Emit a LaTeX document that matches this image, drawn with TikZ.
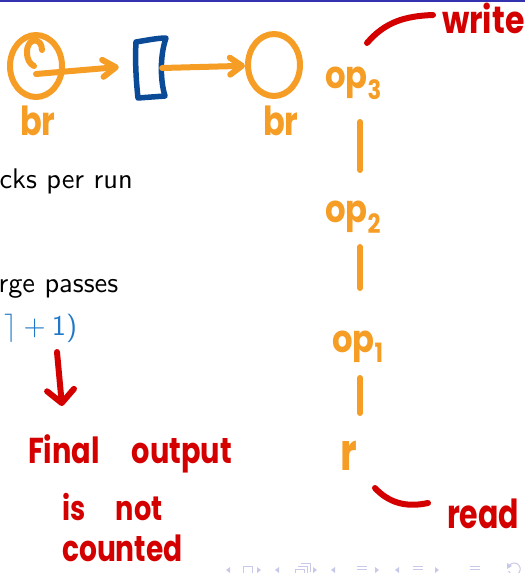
\documentclass[tikz,border=0pt]{standalone}
\usepackage{fontspec}
\usetikzlibrary{arrows.meta,shapes.geometric}
\newfontfamily\handfont{Poppins}

\definecolor{penorange}{RGB}{245,157,36}
\definecolor{penblue}{RGB}{10,74,150}
\definecolor{penred}{RGB}{212,0,0}
\definecolor{mathblue}{RGB}{31,120,200}
\definecolor{barblue}{RGB}{51,51,178}
\definecolor{navgrey}{RGB}{200,200,232}

\tikzset{
  ostroke/.style={draw=penorange, line width=6pt, line cap=round, line join=round},
  bstroke/.style={draw=penblue, line width=5.5pt, line cap=round, line join=round},
  rstroke/.style={draw=penred, line width=6pt, line cap=round, line join=round},
  ink/.style={inner sep=0pt, anchor=base west, font=\handfont\bfseries},
  body/.style={inner sep=0pt, anchor=base west, font=\sffamily, scale=2.84},
  ring/.style={ellipse, ostroke, minimum width=52pt, minimum height=62pt, inner sep=0pt},
  barb/.style={-{Straight Barb[length=#1, width=17pt, line cap=round, line join=round]}},
  navtri/.style={fill=navgrey, draw=none},
}

\begin{document}
\begin{tikzpicture}[x=1pt, y=-1pt]
\useasboundingbox (0,0) rectangle (525,573);
\clip (0,0) rectangle (525,573);

% rule under the frame title
\fill[barblue] (0,0) rectangle (525,1.6);

% slide body text
\node[body] (l1) at (-1,188) {cks per run};
\node[body] (l2) at (-2,292) {rge passes};
\node[body, text=mathblue] (l3) at (4,335) {$\rceil \mathbin{\textsf{+}} \textsf{1)}$};

% input run -> buffer -> output run
\node[ring] (lc) at (36,66) {};
\draw[ostroke] (42,50) .. controls (42,37) and (27,37) .. (27,52)
               .. controls (27,60) and (30,64) .. (34,66);
\node[minimum width=30pt, minimum height=58pt, inner sep=0pt] (blk) at (151,68) {};
\draw[bstroke] (136,42) .. controls (148,40) and (158,38) .. (166,38)
               .. controls (160,55) and (160,80) .. (165,96)
               -- (138,98) .. controls (136,80) and (135,60) .. cycle;
\node[ring] (rc) at (274,65) {};
\draw[ostroke, barb=13pt] ([yshift=-8pt]lc.center) -- ([xshift=-17pt,yshift=1pt]blk.west);
\draw[ostroke, barb=12pt] ([xshift=-4pt]blk.east) -- (rc);

\node[ink, text=penorange, xscale=0.8] (brl) at (20,135) {\fontsize{40}{40}\selectfont br};
\node[ink, text=penorange, xscale=0.8] (brr) at (263,135) {\fontsize{40}{40}\selectfont br};

% operator chain
\coordinate (spine) at (360,0);
\node[ink, text=penorange, xscale=0.85] (op3) at (325,88) {\fontsize{38}{38}\selectfont op\textsubscript{3}};
\node[ink, text=penorange, xscale=0.85] (op2) at (325,222) {\fontsize{38}{38}\selectfont op\textsubscript{2}};
\node[ink, text=penorange, xscale=0.85] (op1) at (332,352) {\fontsize{38}{38}\selectfont op\textsubscript{1}};
\node[ink, text=penorange, xscale=0.75] (rr) at (340,470) {\fontsize{52}{52}\selectfont r};
\draw[ostroke, shorten <=34pt, shorten >=52pt] (op3.base -| spine) -- (op2.base -| spine);
\draw[ostroke, shorten <=25pt, shorten >=64pt] (op2.base -| spine) -- (op1.base -| spine);
\draw[ostroke, shorten <=26pt, shorten >=57pt] (op1.base -| spine) -- (rr.base -| spine);

% annotations
\node[ink, text=penred, xscale=0.83] (wr) at (442,33) {\fontsize{38}{38}\selectfont write};
\coordinate (wtail) at (367,43);
\draw[rstroke] (wtail) .. controls (385,22) and (405,16) .. (433,15);

\node[ink, text=penred, xscale=0.75] (rd) at (447,528) {\fontsize{40}{40}\selectfont read};
\coordinate (rtail) at (375,488);
\draw[rstroke] (rtail) .. controls (388,502) and (405,508) .. (428,503);

\coordinate (atail) at (57,352);
\coordinate (ahead) at (62,406);
\draw[rstroke, -{Straight Barb[length=13pt, width=27pt, line cap=round, line join=round]}] (atail) -- (ahead);

\node[ink, text=penred, xscale=0.8] (fin) at (28,463) {\fontsize{36}{36}\selectfont Final\hspace{40pt}output};
\node[ink, text=penred, xscale=0.8] (isnot) at (62,520) {\fontsize{34}{34}\selectfont is\hspace{38pt}not};
\node[ink, text=penred, xscale=0.78] (cnt) at (62,561) {\fontsize{36}{36}\selectfont counted};

% navigation symbols
\fill[navtri] (226,570) -- (230,567) -- (230,573) -- cycle;
\draw[navgrey, line width=1pt] (243,566) rectangle (252,576);
\fill[navtri] (261,570) -- (257,567) -- (257,573) -- cycle;
\fill[navtri] (275,570) -- (279,567) -- (279,573) -- cycle;
\draw[navgrey, line width=1pt] (295,569) rectangle (304,578);
\draw[navgrey, line width=1pt] (298,566) -- (307,566) -- (307,575);
\draw[navgrey, line width=1pt] (301,563) -- (310,563) -- (310,572);
\fill[navtri] (317,570) -- (313,567) -- (313,573) -- cycle;
\fill[navtri] (331,570) -- (335,567) -- (335,573) -- cycle;
\foreach \yy in {566,569.5,573} \draw[navgrey, line width=1pt] (357,\yy) -- (367,\yy);
\fill[navtri] (379,570) -- (375,567) -- (375,573) -- cycle;
\fill[navtri] (395,570) -- (399,567) -- (399,573) -- cycle;
\foreach \yy in {566,569.5,573} \draw[navgrey, line width=1pt] (413,\yy) -- (423,\yy);
\fill[navtri] (439,570) -- (435,567) -- (435,573) -- cycle;
\foreach \yy in {566,569.5,573} \draw[navgrey, line width=1pt] (470,\yy) -- (480,\yy);
\draw[navgrey, line width=1pt] (509,566) arc[start angle=150, end angle=-160, radius=6pt];
\fill[navtri] (507,563) -- (512,566) -- (507,569) -- cycle;
\end{tikzpicture}
\end{document}
